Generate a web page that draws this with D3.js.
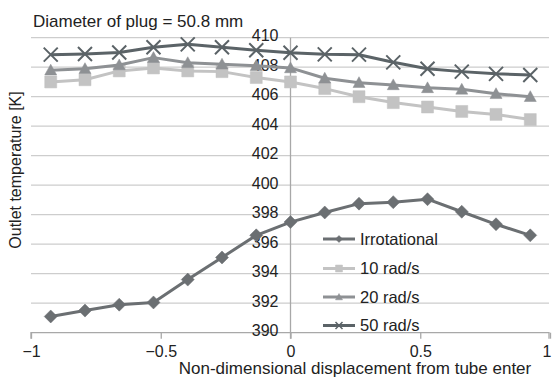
<!DOCTYPE html>
<html>
<head>
<meta charset="utf-8">
<script src="https://cdn.jsdelivr.net/npm/d3@7"></script>
<style>
html,body{margin:0;padding:0;background:#fff;}
svg{display:block;font-family:"Liberation Sans",Arial,Helvetica,sans-serif;}
</style>
</head>
<body>
<svg id="chart" width="552" height="379"></svg>
<script>
const xValues = [-0.924,-0.792,-0.66,-0.528,-0.396,-0.264,-0.132,0,0.132,0.264,0.396,0.528,0.66,0.792,0.924];
const irrotational = [391.1,391.5,391.9,392.05,393.6,395.1,396.6,397.5,398.15,398.75,398.85,399.05,398.2,397.35,396.6];
const rad10 = [407.0,407.15,407.75,407.95,407.75,407.7,407.3,407.0,406.55,406.0,405.6,405.3,405.0,404.8,404.45];
const rad20 = [407.8,407.9,408.15,408.65,408.3,408.2,408.1,407.95,407.25,406.95,406.8,406.6,406.5,406.2,406.0];
const rad50 = [408.85,408.9,409.0,409.35,409.55,409.35,409.15,408.98,408.87,408.85,408.33,407.9,407.7,407.55,407.47];
const seriesNames = ["Irrotational","10 rad/s","20 rad/s","50 rad/s"];
const xTicks = [-1,-0.5,0,0.5,1];
const xTickLabels = ["\u22121","\u22120.5","0","0.5","1"];
const yTicks = [390,392,394,396,398,400,402,404,406,408,410];
const titleText = "Diameter of plug = 50.8 mm";
const xTitle = "Non-dimensional displacement from tube enter";
const yTitle = "Outlet temperature [K]";

const series = [
  {name: seriesNames[0], values: irrotational, color: "#6b6f72", marker: "diamond"},
  {name: seriesNames[1], values: rad10, color: "#c3c3c3", marker: "square"},
  {name: seriesNames[2], values: rad20, color: "#8e9194", marker: "triangle"},
  {name: seriesNames[3], values: rad50, color: "#5b6367", marker: "cross"}
];

const svg = d3.select("#chart");
const x = d3.scaleLinear().domain([-1,1]).range([31,550]);
const y = d3.scaleLinear().domain([390,410]).range([332.7,37.7]);

// gridlines
svg.append("g").selectAll("line").data(yTicks.filter(d=>d>390)).join("line")
  .attr("x1", x(-1)).attr("x2", 549)
  .attr("y1", d=>y(d)).attr("y2", d=>y(d))
  .attr("stroke", "#cdcdcd").attr("stroke-width", 1.3);

// x axis
const xAxis = d3.axisBottom(x).tickValues(xTicks).tickSize(6).tickFormat((d,i)=>xTickLabels[i]);
const gx = svg.append("g").attr("transform", `translate(0,${y(390)})`).call(xAxis);
gx.select(".domain").attr("stroke","#a8a8a8").attr("stroke-width",1.3).attr("d", `M${x(-1)},6V0H549V6`);
gx.selectAll(".tick line").attr("stroke","#a8a8a8").attr("stroke-width",1.3);
gx.selectAll(".tick text").attr("font-size",16).attr("fill","#222").attr("dy","0.95em").attr("font-family","Liberation Sans, Arial, sans-serif");
// keep the last label ("1") inside the picture
gx.selectAll(".tick text").filter(d=>d===1).attr("text-anchor","end").attr("x", 551 - x(1));

// y axis at x=0
const yAxis = d3.axisLeft(y).tickValues(yTicks).tickSize(0).tickPadding(12).tickFormat(d3.format("d"));
const gy = svg.append("g").attr("transform", `translate(${x(0)},0)`).call(yAxis);
gy.select(".domain").attr("stroke","#a8a8a8").attr("stroke-width",1.3).attr("d", `M0,${y(410)}V${y(390)+6}`);
gy.selectAll(".tick text").attr("font-size",16).attr("fill","#222").attr("dy","0.2em").attr("font-family","Liberation Sans, Arial, sans-serif");

function markerPath(type, s) {
  const h = s/2;
  if (type === "diamond") return `M0,${-h}L${h},0L0,${h}L${-h},0Z`;
  if (type === "square") return `M${-h},${-h}H${h}V${h}H${-h}Z`;
  if (type === "triangle") return `M0,${-h}L${h},${h*0.8}H${-h}Z`;
  return `M${-h},${-h}L${h},${h}M${h},${-h}L${-h},${h}`;
}

const line = d3.line().x((d,i)=>x(xValues[i])).y(d=>y(d));

series.forEach(s => {
  const g = svg.append("g");
  g.append("path").datum(s.values).attr("d", line)
    .attr("fill","none").attr("stroke", s.color).attr("stroke-width", 3).attr("stroke-linejoin","round");
  const size = s.marker === "cross" ? 14 : (s.marker === "diamond" ? 13 : 12);
  g.selectAll("path.m").data(s.values).join("path").attr("class","m")
    .attr("transform",(d,i)=>`translate(${x(xValues[i])},${y(d)})`)
    .attr("d", markerPath(s.marker, size))
    .attr("fill", s.marker === "cross" ? "none" : s.color)
    .attr("stroke", s.color)
    .attr("stroke-width", s.marker === "cross" ? 2 : 0.5);
});

// legend
const legY = [239, 268.5, 297, 325.5];
const lg = svg.append("g");
series.forEach((s,i) => {
  const yy = legY[i];
  lg.append("line").attr("x1",323).attr("x2",355).attr("y1",yy).attr("y2",yy)
    .attr("stroke", s.color).attr("stroke-width", 3);
  lg.append("path").attr("transform",`translate(339,${yy})`)
    .attr("d", markerPath(s.marker, 7))
    .attr("fill", s.marker === "cross" ? "none" : s.color)
    .attr("stroke", s.color).attr("stroke-width", s.marker === "cross" ? 1.5 : 0.5);
  lg.append("text").attr("x",360).attr("y",yy).attr("dy","0.36em")
    .attr("font-size",16.5).attr("fill","#222").text(s.name);
});

// title
svg.append("text").attr("x",33).attr("y",27).attr("font-size",17).attr("fill","#222").text(titleText);
// x title
svg.append("text").attr("x",355).attr("y",374).attr("text-anchor","middle").attr("font-size",17).attr("fill","#222").text(xTitle);
// y title
svg.append("text").attr("transform","translate(21,170) rotate(-90)").attr("text-anchor","middle")
  .attr("font-size",16).attr("fill","#222").text(yTitle);
</script>
</body>
</html>
